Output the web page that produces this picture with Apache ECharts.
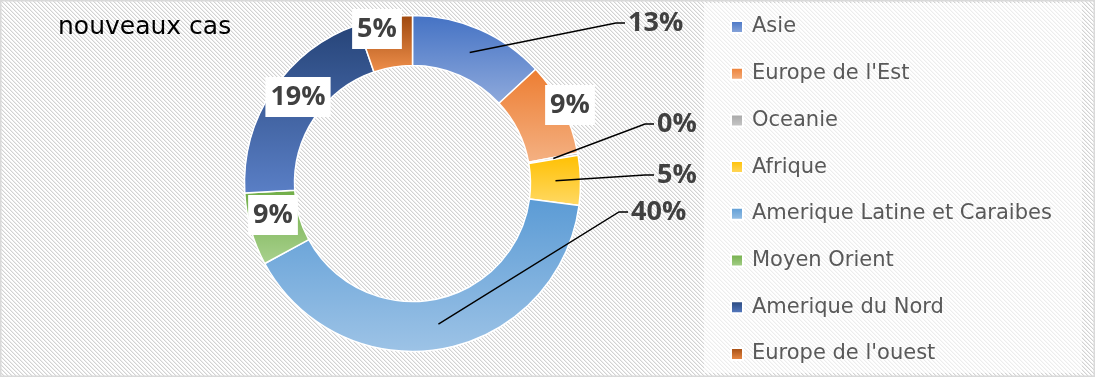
<!DOCTYPE html>
<html>
<head>
<meta charset="utf-8">
<script src="https://cdn.jsdelivr.net/npm/echarts@6/dist/echarts.min.js"></script>
<style>
  html, body { margin: 0; padding: 0; background: #ffffff; }
  #main { width: 1095px; height: 377px; }
</style>
</head>
<body>
<div id="main"></div>
<script>
  // data
  var regions = ['Asie', "Europe de l'Est", 'Oceanie', 'Afrique', 'Amerique Latine et Caraibes',
                 'Moyen Orient', 'Amerique du Nord', "Europe de l'ouest"];
  var shares = [13.1, 9.0, 0.2, 4.8, 40.0, 7.0, 20.6, 5.3];
  var pctLabels = ['13%', '9%', '0%', '5%', '40%', '9%', '19%', '5%'];

  // styles
  var topColors = ['#4472C4', '#ED7D31', '#A5A5A5', '#FFC000', '#5B9BD5', '#70AD47', '#264478', '#9E480E'];
  var bottomColors = ['#8FAADC', '#F4B183', '#C9C9C9', '#FFD966', '#9DC3E6', '#A9D18E', '#5A7FC6', '#F0904C'];
  var outside = [true, false, true, true, true, false, false, false];
  // label anchor: outside labels -> [left, middle], inside labels -> [center, middle]
  var labelSpots = [[628, 23], [570, 105], [657, 124], [657, 175], [631, 212], [273, 215], [298, 97], [377, 29]];

  var chart = echarts.init(document.getElementById('main'));
  var font = 'Open Sans';
  var legendFont = 'DejaVu Sans';

  // diagonal hatch tile for the chart area
  var tile = document.createElement('canvas');
  tile.width = 4;
  tile.height = 4;
  var tctx = tile.getContext('2d');
  tctx.fillStyle = '#ffffff';
  tctx.fillRect(0, 0, 4, 4);
  for (var k = 0; k < 4; k++) {
    tctx.fillStyle = '#d2d2d2';
    tctx.fillRect(k, k, 1, 1);
    tctx.fillStyle = '#eeeeee';
    tctx.fillRect((k + 1) % 4, k, 1, 1);
  }

  function fill(i) {
    return new echarts.graphic.LinearGradient(0, 0, 0, 1, [
      { offset: 0, color: topColors[i] },
      { offset: 1, color: bottomColors[i] }
    ]);
  }

  var sectors = regions.map(function (name, i) {
    return { name: name, value: shares[i], itemStyle: { color: fill(i) } };
  });

  // same slices again, transparent, so labels and leader lines sit above the ring
  var labelItems = regions.map(function (name, i) {
    return {
      name: name,
      value: shares[i],
      label: outside[i]
        ? { position: 'outside' }
        : { position: 'inside', backgroundColor: '#ffffff', padding: [5, 5, 5, 5] },
      labelLine: { show: outside[i] }
    };
  });

  function itemAnchor(seriesIndex, i) {
    var lay = chart.getModel().getSeriesByIndex(seriesIndex).getData().getItemLayout(i);
    var mid = (lay.startAngle + lay.endAngle) / 2;
    var rr = (lay.r + lay.r0) / 2;
    return [lay.cx + rr * Math.cos(mid), lay.cy + rr * Math.sin(mid)];
  }

  var center = [412.5, 183.5];
  var radius = [118, 168];

  var option = {
    animation: false,
    backgroundColor: { image: tile, repeat: 'repeat' },
    title: {
      text: 'nouveaux cas',
      left: 58,
      top: 15,
      padding: 0,
      textStyle: { fontFamily: legendFont, fontSize: 25, fontWeight: 'normal', color: '#000000' }
    },
    graphic: [{
      type: 'rect',
      silent: true,
      z: 0,
      shape: { x: 704, y: 3, width: 378, height: 370 },
      style: { fill: 'rgba(255,255,255,0.6)' }
    }, {
      type: 'rect',
      silent: true,
      z: 0,
      shape: { x: 0.75, y: 0.75, width: 1093.5, height: 375.5 },
      style: { fill: 'none', stroke: '#d9d9d9', lineWidth: 1.5 }
    }],
    legend: {
      orient: 'vertical',
      left: 730,
      top: 15,
      padding: 0,
      itemWidth: 12,
      itemHeight: 12,
      itemGap: 22.7,
      icon: 'rect',
      selectedMode: false,
      data: regions.map(function (name, i) {
        return { name: name, itemStyle: { color: fill(i) } };
      }),
      textStyle: { fontFamily: legendFont, fontSize: 21, lineHeight: 24, color: '#595959', padding: [0, 0, 0, 4] }
    },
    series: [{
      type: 'pie',
      z: 2,
      center: center,
      radius: radius,
      startAngle: 90,
      clockwise: true,
      silent: true,
      itemStyle: { borderColor: '#ffffff', borderWidth: 1.5 },
      emphasis: { disabled: true },
      label: { show: false },
      labelLine: { show: false },
      data: sectors
    }, {
      type: 'pie',
      z: 3,
      center: center,
      radius: radius,
      startAngle: 90,
      clockwise: true,
      silent: true,
      avoidLabelOverlap: false,
      itemStyle: { color: 'rgba(0,0,0,0)', borderWidth: 0 },
      emphasis: { disabled: true },
      label: {
        formatter: function (p) { return pctLabels[p.dataIndex]; },
        fontFamily: font,
        fontSize: 27,
        lineHeight: 30,
        fontWeight: 'bold',
        color: '#404040',
        textBorderWidth: 0
      },
      labelLine: { lineStyle: { color: '#000000', width: 1.4 } },
      labelLayout: function (p) {
        var i = p.dataIndex;
        var s = labelSpots[i];
        if (!outside[i]) {
          return { x: s[0], y: s[1], align: 'center', verticalAlign: 'middle' };
        }
        var a = itemAnchor(p.seriesIndex, i);
        return {
          x: s[0], y: s[1], align: 'left', verticalAlign: 'middle',
          labelLinePoints: [a, [s[0] - 12, s[1]], [s[0] - 3, s[1]]]
        };
      },
      data: labelItems
    }]
  };

  chart.setOption(option);
</script>
</body>
</html>
